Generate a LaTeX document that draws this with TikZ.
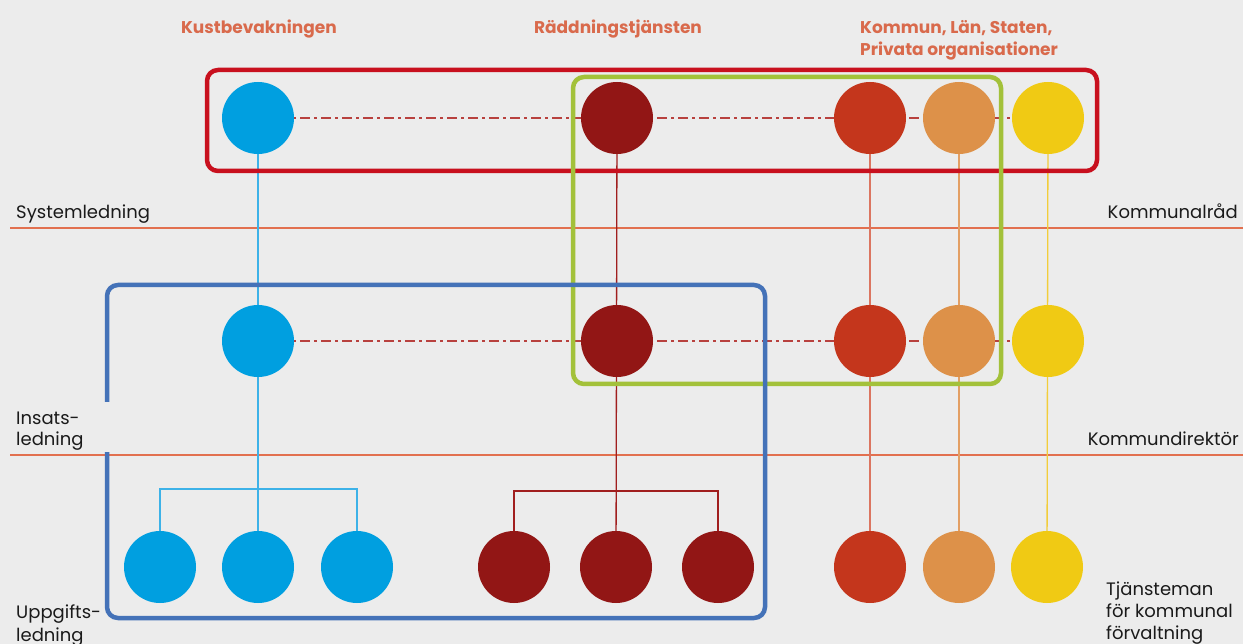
\documentclass[tikz,border=0pt]{standalone}
\usepackage{fontspec}
\setmainfont{Poppins}
\definecolor{paper}{HTML}{ECECEC}
\definecolor{headcol}{HTML}{D96A4C}
\definecolor{txtcol}{HTML}{1A1A1A}
\definecolor{kbcol}{HTML}{009FE0}
\definecolor{rtcol}{HTML}{921615}
\definecolor{kocol}{HTML}{C4361C}
\definecolor{lacol}{HTML}{DD9149}
\definecolor{prcol}{HTML}{F0CA14}
\definecolor{kbline}{HTML}{3DB2E8}
\definecolor{rtline}{HTML}{A01E1E}
\definecolor{koline}{HTML}{DB7560}
\definecolor{laline}{HTML}{E39F64}
\definecolor{prline}{HTML}{F2CD3A}
\definecolor{sepcol}{HTML}{E2704F}
\definecolor{chaincol}{HTML}{B8413E}
\definecolor{redframe}{HTML}{C8101E}
\definecolor{greenframe}{HTML}{A3C13A}
\definecolor{blueframe}{HTML}{4472B8}
\pgfdeclarelayer{paperlayer}
\pgfdeclarelayer{linelayer}
\pgfdeclarelayer{framelayer}
\pgfsetlayers{paperlayer,linelayer,framelayer,main}
\tikzset{
  unit/.style={circle, minimum size=72pt, inner sep=0pt, fill=#1},
  link/.style={line width=1.3pt, draw=#1},
  chain/.style={draw=chaincol, line width=1.5pt, dash pattern=on 10pt off 4pt on 3pt off 4pt},
  sepline/.style={draw=sepcol, line width=1.2pt},
  frame/.style={line width=4.5pt, rounded corners=11pt, draw=#1},
  lvl/.style={font=\fontsize{18}{22}\selectfont, text=txtcol, inner sep=0pt, align=left},
  head/.style={font=\fontsize{17}{22}\selectfont\bfseries, text=headcol, inner sep=0pt},
}
\begin{document}
\begin{tikzpicture}[x=1pt,y=-1pt]
\begin{pgfonlayer}{paperlayer}
  \fill[paper] (0,0) rectangle (1243,644);
\end{pgfonlayer}
\useasboundingbox (0,0) rectangle (1243,644);

% column headings (multi-line nodes are placed by the baseline of their last line)
\node[head, anchor=base] (hkb) at (259,34) {Kustbevakningen};
\node[head, anchor=base] (hrt) at (618,34) {Räddningstjänsten};
\node[head, anchor=base west, align=left, font=\fontsize{17}{22.5}\selectfont\bfseries] (hko) at (860,56) {Kommun, Län, Staten,\\Privata organisationer};

% level labels
\node[lvl, anchor=base west] (lsys) at (16,219) {Systemledning};
\node[lvl, anchor=base west, font=\fontsize{18}{21}\selectfont] (lins) at (16,446) {Insats-\\ledning};
\node[lvl, anchor=base west, font=\fontsize{18}{23}\selectfont] (lupp) at (16,641) {Uppgifts-\\ledning};
\node[lvl, anchor=base east] (lkr) at (1238,219) {Kommunalråd};
\node[lvl, anchor=base east] (lkd) at (1239,445) {Kommundirektör};
\node[lvl, anchor=base west] (ltj) at (1106,639) {Tjänsteman\\för kommunal\\förvaltning};

% top row
\node[unit=kbcol] (kb1) at (258,118) {};
\node[unit=rtcol] (rt1) at (617,118) {};
\node[unit=kocol] (ko1) at (870,118) {};
\node[unit=lacol] (la1) at (959,118) {};
\node[unit=prcol] (pr1) at (1048,118) {};
% middle row
\node[unit=kbcol] (kb2) at (258,341) {};
\node[unit=rtcol] (rt2) at (617,341) {};
\node[unit=kocol] (ko2) at (870,341) {};
\node[unit=lacol] (la2) at (959,341) {};
\node[unit=prcol] (pr2) at (1048,341) {};
% bottom row
\node[unit=kbcol] (kb3a) at (160,567) {};
\node[unit=kbcol] (kb3b) at (258,567) {};
\node[unit=kbcol] (kb3c) at (357,567) {};
\node[unit=rtcol] (rt3a) at (514,567) {};
\node[unit=rtcol] (rt3b) at (616,567) {};
\node[unit=rtcol] (rt3c) at (718,567) {};
\node[unit=kocol] (ko3) at (870,567) {};
\node[unit=lacol] (la3) at (959,567) {};
\node[unit=prcol] (pr3) at (1047,567) {};

\coordinate (kbbar) at (258,489);
\coordinate (rtbar) at (616,491);
\coordinate (s1a) at (10,228);
\coordinate (s1b) at (1243,228);
\coordinate (s2a) at (10,455);
\coordinate (s2b) at (1243,455);

\begin{pgfonlayer}{linelayer}
  \draw[sepline] (s1a) -- (s1b);
  \draw[sepline] (s2a) -- (s2b);
  \draw[link=kbline] (kb1.center) -- (kb3b.center);
  \draw[link=kbline] (kb3a.center) |- (kbbar) -| (kb3c.center);
  \draw[link=rtline] (rt1.center) -- (rt3b.center);
  \draw[link=rtline] (rt3a.center) |- (rtbar) -| (rt3c.center);
  \draw[link=koline] (ko1.center) -- (ko3.center);
  \draw[link=laline] (la1.center) -- (la3.center);
  \draw[link=prline] (pr1.center) -- (pr3.center);
  \draw[chain] (kb1.center) -- (pr1.center);
  \draw[chain] (kb2.center) -- (pr2.center);
\end{pgfonlayer}

\begin{pgfonlayer}{framelayer}
  \draw[frame=redframe] (207,70) rectangle (1097,171);
  \draw[frame=greenframe] (573,77) rectangle (1001,384);
  \draw[frame=blueframe] (107,402) -- (107,285) -- (765,285) -- (765,618) -- (107,618) -- (107,452);
\end{pgfonlayer}
\end{tikzpicture}
\end{document}
